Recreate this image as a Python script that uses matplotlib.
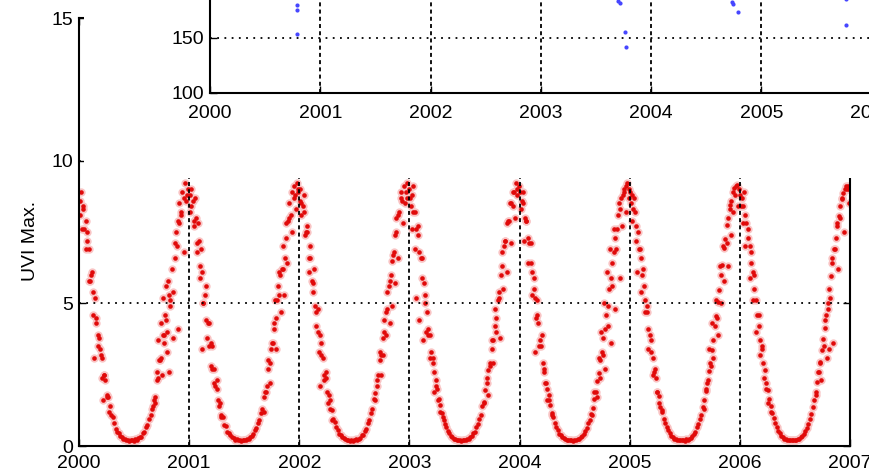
import numpy as np
import matplotlib.pyplot as plt
from matplotlib.patches import Rectangle

plt.rcParams['font.family'] = ['Liberation Sans', 'DejaVu Sans']
plt.rcParams['font.size'] = 14

# day of year of each sample (5-day steps)
days = [2, 7, 12, 17, 22, 27, 32, 37, 42, 47,
        52, 57, 62, 67, 72, 77, 82, 87, 92, 97,
        102, 107, 112, 117, 122, 127, 132, 137, 142, 147,
        152, 157, 162, 167, 172, 177, 182, 187, 192, 197,
        202, 207, 212, 217, 222, 227, 232, 237, 242, 247,
        252, 257, 262, 267, 272, 277, 282, 287, 292, 297,
        302, 307, 312, 317, 322, 327, 332, 337, 342, 347,
        352, 357, 362]

years = [2000, 2001, 2002, 2003, 2004, 2005, 2006]

uv_2000 = [8.6, 8.9, 8.3, 7.6, 7.9, 7.2, 6.9, 5.8, 6.1, 5.4,
           5.2, 4.5, 3.9, 3.8, 3.2, 3.1, 2.5, 2.3, 1.8, 1.7,
           1.4, 1.1, 1.0, 0.8, 0.6, 0.5, 0.45, 0.35, 0.3, 0.25,
           0.26, 0.2, 0.22, 0.18, 0.2, 0.22, 0.19, 0.24, 0.22, 0.27,
           0.3, 0.33, 0.45, 0.5, 0.66, 0.75, 0.95, 1.1, 1.3, 1.6,
           1.7, 2.3, 2.4, 3.0, 3.1, 3.9, 3.6, 4.4, 4.0, 5.3,
           5.1, 6.2, 5.4, 7.1, 7.5, 7.9, 8.5, 8.2, 8.9, 8.7,
           9.2, 8.8, 9.0]
uv_2001 = [8.8, 8.4, 8.6, 7.9, 8.0, 7.1, 7.2, 6.3, 6.1, 5.0,
           5.3, 4.4, 4.3, 3.5, 3.6, 2.7, 2.7, 2.1, 2.0, 1.6,
           1.5, 1.1, 1.0, 0.75, 0.7, 0.5, 0.46, 0.38, 0.3, 0.27,
           0.22, 0.23, 0.2, 0.21, 0.18, 0.2, 0.22, 0.2, 0.25, 0.24,
           0.32, 0.34, 0.43, 0.55, 0.62, 0.8, 0.9, 1.15, 1.3, 1.7,
           1.9, 2.1, 2.7, 2.9, 3.4, 3.6, 4.3, 4.5, 5.1, 5.3,
           6.0, 6.2, 7.0, 6.6, 7.8, 7.9, 8.5, 8.1, 8.9, 9.1,
           8.8, 9.2, 8.9]
uv_2002 = [9.0, 8.5, 8.4, 8.2, 7.5, 7.5, 6.6, 6.6, 5.8, 5.7,
           4.9, 4.7, 4.0, 3.9, 3.2, 3.1, 2.5, 2.4, 1.9, 1.8,
           1.3, 1.25, 0.95, 0.85, 0.65, 0.56, 0.42, 0.38, 0.3, 0.27,
           0.23, 0.21, 0.22, 0.19, 0.21, 0.18, 0.21, 0.23, 0.22, 0.26,
           0.29, 0.37, 0.4, 0.54, 0.6, 0.8, 0.9, 1.15, 1.3, 1.65,
           1.85, 2.3, 2.5, 3.0, 3.2, 3.8, 4.0, 4.7, 4.8, 5.6,
           5.8, 6.5, 6.7, 7.4, 7.5, 8.1, 8.2, 8.7, 8.6, 9.1,
           8.9, 9.2, 9.0]
uv_2003 = [8.7, 8.8, 8.2, 8.2, 7.6, 7.4, 6.8, 6.6, 5.9, 5.7,
           5.0, 4.7, 4.1, 3.9, 3.3, 3.1, 2.6, 2.3, 2.0, 1.65,
           1.45, 1.15, 1.0, 0.78, 0.68, 0.52, 0.45, 0.35, 0.32, 0.25,
           0.25, 0.21, 0.22, 0.2, 0.19, 0.21, 0.2, 0.22, 0.24, 0.24,
           0.31, 0.34, 0.44, 0.5, 0.66, 0.76, 0.95, 1.1, 1.4, 1.55,
           1.95, 2.2, 2.65, 2.9, 3.4, 3.7, 4.2, 4.5, 5.1, 5.4,
           6.0, 6.3, 7.0, 7.2, 7.8, 7.9, 8.5, 8.5, 8.9, 8.9,
           9.2, 9.0, 9.1]
uv_2004 = [8.9, 8.6, 8.5, 8.0, 7.9, 7.3, 7.1, 6.4, 6.1, 5.5,
           5.2, 4.6, 4.3, 3.7, 3.5, 2.9, 2.7, 2.2, 2.0, 1.6,
           1.45, 1.15, 1.0, 0.8, 0.66, 0.55, 0.43, 0.37, 0.3, 0.27,
           0.24, 0.22, 0.2, 0.21, 0.2, 0.19, 0.21, 0.21, 0.24, 0.25,
           0.3, 0.36, 0.41, 0.53, 0.63, 0.79, 0.92, 1.13, 1.33, 1.64,
           1.88, 2.27, 2.55, 3.0, 3.3, 3.8, 4.1, 4.6, 4.9, 5.5,
           5.9, 6.4, 6.8, 7.3, 7.6, 8.1, 8.3, 8.7, 8.8, 9.0,
           9.1, 9.2, 9.0]
uv_2005 = [8.9, 8.8, 8.3, 8.2, 7.7, 7.5, 6.9, 6.6, 6.0, 5.6,
           5.1, 4.7, 4.1, 3.9, 3.3, 3.1, 2.6, 2.4, 1.9, 1.75,
           1.35, 1.25, 0.95, 0.82, 0.65, 0.55, 0.45, 0.35, 0.32, 0.25,
           0.25, 0.21, 0.21, 0.2, 0.2, 0.21, 0.19, 0.23, 0.22, 0.26,
           0.29, 0.36, 0.43, 0.5, 0.65, 0.76, 0.94, 1.1, 1.37, 1.6,
           1.92, 2.22, 2.62, 2.9, 3.38, 3.7, 4.2, 4.55, 5.05, 5.45,
           6.0, 6.35, 6.95, 7.25, 7.75, 8.0, 8.45, 8.6, 8.9, 9.05,
           9.1, 9.15, 9.0]
uv_2006 = [8.8, 8.7, 8.4, 8.1, 7.8, 7.3, 7.0, 6.4, 6.1, 5.5,
           5.1, 4.6, 4.2, 3.7, 3.4, 2.9, 2.65, 2.2, 1.95, 1.65,
           1.4, 1.15, 0.98, 0.8, 0.67, 0.53, 0.44, 0.36, 0.31, 0.26,
           0.24, 0.22, 0.2, 0.2, 0.21, 0.2, 0.2, 0.22, 0.23, 0.25,
           0.3, 0.35, 0.42, 0.52, 0.64, 0.78, 0.93, 1.12, 1.35, 1.62,
           1.9, 2.25, 2.6, 2.95, 3.35, 3.75, 4.15, 4.6, 5.0, 5.5,
           5.95, 6.4, 6.9, 7.3, 7.7, 8.05, 8.4, 8.65, 8.85, 9.0,
           9.1, 9.1, 9.0]

# scattered (cloudy) days: (fraction of year, UVI)
extra_2000 = [(0.01, 8.1), (0.03, 7.6), (0.04, 8.4), (0.06, 6.9), (0.07, 7.5), (0.09, 5.8), (0.11, 6.0),
              (0.13, 4.6), (0.15, 4.3), (0.17, 3.5), (0.19, 3.4), (0.21, 2.4), (0.23, 2.5), (0.25, 1.7),
              (0.27, 1.2), (0.14, 3.1), (0.22, 1.6), (0.67, 1.4), (0.69, 1.5), (0.71, 2.6), (0.72, 3.7),
              (0.73, 3.0), (0.745, 4.3), (0.75, 2.5), (0.76, 5.2), (0.77, 3.9), (0.78, 4.6), (0.79, 5.6),
              (0.80, 3.3), (0.81, 5.8), (0.82, 2.6), (0.83, 4.9), (0.85, 3.8), (0.87, 6.6), (0.89, 7.0),
              (0.90, 4.1), (0.91, 7.8), (0.93, 8.1), (0.95, 6.8), (0.97, 8.6)]
extra_2001 = [(0.01, 8.2), (0.02, 9.0), (0.04, 7.7), (0.05, 8.7), (0.07, 6.8), (0.08, 7.8), (0.10, 5.9),
              (0.11, 6.9), (0.13, 5.0), (0.15, 5.6), (0.16, 3.8), (0.18, 4.3), (0.20, 2.8), (0.21, 3.5),
              (0.23, 2.2), (0.25, 2.3), (0.27, 1.4), (0.29, 1.0), (0.12, 3.4), (0.68, 1.2), (0.70, 1.9),
              (0.72, 3.0), (0.73, 2.2), (0.75, 3.6), (0.77, 4.1), (0.78, 5.1), (0.79, 3.4), (0.81, 5.6),
              (0.82, 6.1), (0.83, 4.7), (0.85, 6.2), (0.86, 5.3), (0.88, 7.3), (0.89, 6.4), (0.91, 8.0),
              (0.93, 7.5), (0.95, 8.7), (0.97, 8.3), (0.99, 9.0)]
extra_2002 = [(0.01, 8.6), (0.02, 8.1), (0.04, 8.8), (0.05, 7.4), (0.07, 7.7), (0.09, 6.1), (0.10, 7.0),
              (0.12, 5.4), (0.13, 6.2), (0.15, 4.2), (0.17, 4.8), (0.18, 3.3), (0.20, 3.6), (0.22, 2.3),
              (0.24, 2.6), (0.26, 1.5), (0.28, 1.6), (0.30, 0.9), (0.19, 2.1), (0.69, 1.6), (0.71, 2.1),
              (0.73, 3.3), (0.74, 2.5), (0.76, 3.2), (0.77, 4.4), (0.79, 3.9), (0.80, 5.4), (0.82, 4.3),
              (0.83, 6.0), (0.84, 4.9), (0.86, 6.8), (0.87, 5.7), (0.88, 8.0), (0.90, 6.6), (0.92, 8.9),
              (0.94, 7.8), (0.96, 8.5), (0.98, 8.7)]
extra_2003 = [(0.01, 8.4), (0.02, 7.6), (0.03, 9.1), (0.05, 6.9), (0.06, 5.2), (0.08, 7.7), (0.09, 4.4),
              (0.11, 6.6), (0.12, 3.7), (0.14, 5.3), (0.15, 4.0), (0.17, 3.9), (0.19, 3.1), (0.21, 2.9),
              (0.22, 1.9), (0.24, 2.1), (0.26, 1.6), (0.28, 1.2), (0.31, 0.9), (0.68, 1.5), (0.70, 2.4),
              (0.71, 1.8), (0.73, 2.8), (0.75, 3.7), (0.76, 2.9), (0.78, 4.8), (0.79, 4.0), (0.81, 5.2),
              (0.82, 3.8), (0.84, 6.8), (0.85, 5.5), (0.87, 7.2), (0.89, 6.1), (0.90, 7.9), (0.92, 7.1),
              (0.94, 8.4), (0.96, 8.0), (0.98, 8.8)]
extra_2004 = [(0.01, 8.3), (0.03, 8.9), (0.04, 7.2), (0.06, 7.9), (0.08, 6.4), (0.10, 7.1), (0.11, 5.3),
              (0.13, 5.9), (0.15, 4.5), (0.16, 5.1), (0.18, 3.5), (0.20, 3.9), (0.22, 2.6), (0.23, 2.2),
              (0.25, 1.6), (0.27, 1.8), (0.29, 1.1), (0.14, 3.3), (0.66, 1.1), (0.68, 1.9), (0.70, 1.7),
              (0.72, 3.1), (0.73, 2.4), (0.74, 4.0), (0.76, 3.2), (0.77, 5.0), (0.78, 2.7), (0.79, 6.1),
              (0.80, 4.2), (0.82, 6.9), (0.83, 3.6), (0.84, 5.6), (0.86, 7.6), (0.87, 4.8), (0.88, 6.9),
              (0.90, 8.5), (0.91, 5.9), (0.93, 7.7), (0.95, 8.9), (0.97, 8.2), (0.99, 8.7)]
extra_2005 = [(0.01, 8.5), (0.02, 7.9), (0.04, 8.7), (0.06, 7.2), (0.07, 6.1), (0.09, 6.9), (0.10, 5.4),
              (0.12, 6.2), (0.14, 4.7), (0.16, 4.9), (0.17, 3.4), (0.19, 3.7), (0.21, 2.5), (0.23, 2.7),
              (0.25, 1.9), (0.27, 1.5), (0.29, 1.2), (0.67, 1.3), (0.69, 2.0), (0.71, 2.3), (0.72, 3.4),
              (0.74, 2.8), (0.75, 4.3), (0.76, 3.1), (0.78, 5.1), (0.79, 4.5), (0.80, 3.9), (0.82, 6.3),
              (0.83, 5.0), (0.85, 7.0), (0.86, 5.8), (0.88, 7.1), (0.89, 6.3), (0.91, 8.3), (0.92, 7.4),
              (0.94, 8.2), (0.96, 8.8), (0.98, 8.4)]
extra_2006 = [(0.01, 8.4), (0.03, 7.8), (0.04, 8.9), (0.05, 7.0), (0.07, 7.6), (0.09, 5.9), (0.10, 6.8),
              (0.12, 5.1), (0.13, 6.0), (0.15, 4.0), (0.17, 4.6), (0.18, 3.2), (0.20, 3.5), (0.22, 2.4),
              (0.24, 2.0), (0.26, 1.5), (0.28, 1.2), (0.69, 1.8), (0.71, 2.6), (0.73, 2.9), (0.74, 2.3),
              (0.76, 3.5), (0.77, 4.4), (0.79, 3.1), (0.80, 4.8), (0.81, 3.4), (0.82, 5.2), (0.84, 6.6),
              (0.85, 3.6), (0.86, 6.9), (0.88, 7.8), (0.89, 6.2), (0.91, 8.0), (0.93, 8.7), (0.95, 7.5),
              (0.97, 9.0), (0.99, 8.5)]

uv_by_year = [uv_2000, uv_2001, uv_2002, uv_2003, uv_2004, uv_2005, uv_2006]
extra_by_year = [extra_2000, extra_2001, extra_2002, extra_2003, extra_2004, extra_2005, extra_2006]

# inset (blue) points
inset_t = [2000.79, 2000.79, 2000.79, 2003.70, 2003.72, 2003.76, 2003.77,
           2004.73, 2004.74, 2004.79, 2005.77, 2005.77]
inset_v = [180, 175, 154, 184, 182, 155, 142, 183, 181, 174, 185, 162]

W, H = 870, 473
fig = plt.figure(figsize=(W / 100, H / 100), dpi=100)

red = '#e00a0a'
halo = '#f9c4c4'
ax = fig.add_axes([79 / W, 27 / H, 771 / W, 428 / H])
for yr, uv, ex in zip(years, uv_by_year, extra_by_year):
    t = yr + np.array(days) / 365.0
    et, ev = zip(*ex)
    et = yr + np.array(et)
    # soft halo first, then the dots
    ax.plot(t, uv, 'o', ms=6, mew=0, color=halo, zorder=1.5)
    ax.plot(et, ev, 'o', ms=6, mew=0, color=halo, zorder=1.5)
    ax.plot(t, uv, 'o', ms=3.3, mew=0, color=red)
    ax.plot(et, ev, 'o', ms=3.3, mew=0, color=red)

ax.set_xlim(2000, 2007)
ax.set_ylim(0, 15)
ax.set_xticks(range(2000, 2008))
ax.set_yticks([0, 5, 10, 15])
ax.tick_params(direction='in', top=True, right=True, length=5, width=1, pad=4)
ax.tick_params(axis='x', pad=6.5)
ax.set_axisbelow(False)
ax.xaxis.grid(True, linestyle=(0, (2.2, 1.8)), color='k', lw=1.3)
ax.yaxis.grid(True, linestyle=(0, (1, 3)), color='k', lw=1.3)
for s in ax.spines.values():
    s.set_linewidth(1.5)
ax.set_ylabel('UVI Max.')
ax.yaxis.set_label_coords(-0.052, 0.48)

# white panel behind the inset
cover = Rectangle((84 / W, 1 - 178 / H), 1, 1, transform=fig.transFigure,
                  facecolor='white', edgecolor='none', zorder=1)
fig.add_artist(cover)

ax2 = fig.add_axes([210 / W, 1 - 93 / H, 772 / W, 165 / H])
ax2.set_zorder(2)
ax2.patch.set_alpha(0)
ax2.plot(inset_t, inset_v, 'o', ms=3, mew=0, color='#4646ff')
ax2.set_xlim(2000, 2007)
ax2.set_ylim(100, 250)
ax2.set_xticks(range(2000, 2008))
ax2.set_yticks([100, 150, 200])
ax2.tick_params(direction='in', top=True, right=True, length=5, width=1, pad=4)
ax2.tick_params(axis='x', pad=8.5)
ax2.set_axisbelow(False)
ax2.xaxis.grid(True, linestyle=(0, (2.2, 1.8)), color='k', lw=1.3)
ax2.yaxis.grid(True, linestyle=(0, (1, 3)), color='k', lw=1.3)
for s in ax2.spines.values():
    s.set_linewidth(1.5)

fig.savefig('out.png', dpi=100)
